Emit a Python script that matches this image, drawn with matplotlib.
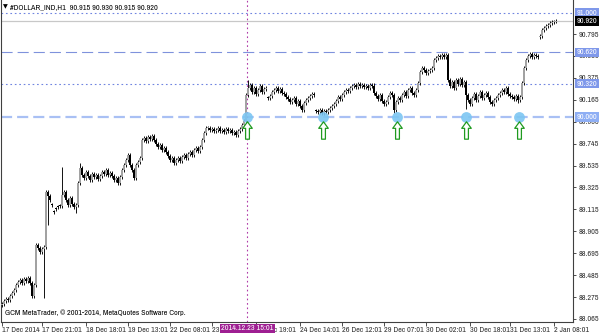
import numpy as np
import matplotlib
matplotlib.use("Agg")
import matplotlib.pyplot as plt
from matplotlib.path import Path
import matplotlib.transforms as mtransforms

plt.rcParams['font.family'] = ['Archivo Narrow', 'DejaVu Sans']
plt.rcParams['lines.scale_dashes'] = False

# ---------------- data ----------------
closes = [
    88.209, 88.237, 88.257, 88.247, 88.285, 88.314, 88.343,
    88.391, 88.419, 88.439, 88.410, 88.448, 88.429, 88.458, 88.410,
    88.285, 88.391, 88.774, 88.745, 88.707, 88.736, 88.755,
    89.282, 89.243, 89.205,
    89.157, 89.090, 89.119, 89.138, 89.148,
    89.253, 89.282, 89.205, 89.157, 89.224, 89.167, 89.138,
    89.157, 89.368, 89.512,
    89.445, 89.416, 89.473, 89.435, 89.397, 89.454, 89.425, 89.445, 89.406, 89.435,
    89.473, 89.454, 89.492, 89.445, 89.464,
    89.435, 89.397, 89.416, 89.368, 89.425,
    89.492, 89.540, 89.588, 89.636, 89.540,
    89.492, 89.416, 89.540, 89.569, 89.607, 89.780,
    89.799, 89.770, 89.809, 89.789, 89.818, 89.780,
    89.741, 89.713, 89.732, 89.684, 89.703,
    89.665, 89.626, 89.588, 89.607, 89.560, 89.588,
    89.607, 89.579, 89.617, 89.636, 89.607, 89.646, 89.665, 89.636, 89.684, 89.703, 89.674, 89.713,
    89.780, 89.847, 89.895,
    89.895, 89.876, 89.885, 89.866, 89.876, 89.895, 89.866, 89.876, 89.856, 89.885,
    89.866, 89.876, 89.847, 89.856, 89.828, 89.866, 89.885,
    89.924, 89.962, 90.211, 90.278,
    90.307, 90.240, 90.278, 90.221, 90.259, 90.297, 90.240, 90.268, 90.278,
    90.182, 90.201,
    90.240, 90.259, 90.278, 90.249, 90.268, 90.230, 90.221,
    90.192, 90.173, 90.144, 90.163, 90.182,
    90.125, 90.153, 90.106, 90.067,
    90.134, 90.163, 90.182, 90.201, 90.221, 90.211,
    90.058, 90.048, 90.067, 90.039, 90.058, 90.048, 90.067,
    90.086, 90.106, 90.125, 90.153, 90.192, 90.173, 90.211, 90.240, 90.259, 90.249,
    90.278, 90.297, 90.307, 90.288, 90.316, 90.297, 90.307, 90.288, 90.297, 90.278, 90.307, 90.297,
    90.230,
    90.201, 90.173, 90.211, 90.153, 90.125, 90.144,
    90.192, 90.230, 90.211, 90.067,
    90.144, 90.182, 90.163, 90.211,
    90.240, 90.201, 90.259, 90.278, 90.230,
    90.211, 90.259, 90.326,
    90.431, 90.470, 90.450, 90.422, 90.441,
    90.450, 90.470, 90.546,
    90.565, 90.585, 90.575, 90.594, 90.575, 90.594,
    90.355,
    90.297, 90.335, 90.278,
    90.355, 90.316, 90.364, 90.307, 90.335,
    90.211, 90.163, 90.125, 90.182,
    90.221, 90.163, 90.201, 90.240, 90.182, 90.211, 90.230, 90.192,
    90.144, 90.125, 90.163,
    90.182, 90.211, 90.230, 90.259, 90.240, 90.278, 90.221, 90.201,
    90.192, 90.173, 90.201, 90.163, 90.192,
    90.326, 90.470, 90.546,
    90.585, 90.604, 90.575, 90.594, 90.585, 90.575,
    90.776, 90.834, 90.853, 90.872, 90.882, 90.901, 90.910, 90.915, 90.920,
]
first_open = 88.200
gap_opens = {25: 89.160, 26: 89.093, 27: 89.121, 28: 89.140, 29: 89.150,
             133: 90.186, 157: 90.062, 269: 90.768}
highs_extra = {30: 89.521, 39: 89.560, 63: 89.655, 123: 90.355, 186: 90.326,
               222: 90.613, 277: 90.930}
lows_extra = {0: 88.180, 15: 88.266, 21: 88.266, 23: 88.966, 37: 89.081,
              122: 89.935, 150: 90.048, 160: 90.030, 196: 90.039, 232: 90.077,
              258: 90.134, 269: 90.760}
WICK = 0.016

date_tick_bars = [0, 20, 42, 63, 84, 105, 127, 149, 170, 191, 212, 234, 254, 276]
date_tick_labels = ["17 Dec 2014", "17 Dec 21:01", "18 Dec 18:01", "19 Dec 13:01",
                    "22 Dec 08:01", "23 Dec 03:01", "23 Dec 19:01", "24 Dec 14:01",
                    "26 Dec 12:01", "29 Dec 07:01", "30 Dec 02:01", "30 Dec 18:01",
                    "31 Dec 13:01", "2 Jan 08:01"]
price_ticks = [88.065, 88.275, 88.485, 88.695, 88.905, 89.115, 89.325, 89.535,
               89.745, 89.955, 90.165, 90.375, 90.585, 90.795]

support_level = 90.000
level_lines = [91.000, 90.620, 90.320]
current_price = 90.920
signal_bars = [122.6, 160.5, 197.5, 232.0, 258.5]
crosshair_bar = 122.6
crosshair_label = "2014.12.23 15:01"

FS = 5.8

# ---------------- figure ----------------
W, H = 600, 333
fig = plt.figure(figsize=(W / 100, H / 100), dpi=100)
ax = fig.add_axes([1 / W, 11 / H, 572 / W, 322 / H])
ax.set_xlim(-0.5, 285.5)
ax.set_ylim(88.036, 91.121)

n = len(closes)
x = np.arange(n)
opens = []
for i in range(n):
    if i in gap_opens:
        opens.append(gap_opens[i])
    elif i == 0:
        opens.append(first_open)
    else:
        opens.append(closes[i - 1])
opens = np.array(opens)
cl = np.array(closes)
hi = np.maximum(opens, cl) + WICK
lo = np.minimum(opens, cl) - WICK
for k, v in highs_extra.items():
    if k < n:
        hi[k] = max(hi[k], v)
for k, v in lows_extra.items():
    if k < n:
        lo[k] = min(lo[k], v)

up = cl >= opens
ax.vlines(x, lo, hi, color='#111111', lw=0.7, zorder=3)
bottom = np.minimum(opens, cl)
height = np.maximum(np.abs(cl - opens), 0.007)
ax.bar(x[up], height[up], bottom=bottom[up], width=1.0, color='#a2a2a2',
       linewidth=0, zorder=4)
ax.bar(x[~up], height[~up], bottom=bottom[~up], width=1.0, color='black',
       linewidth=0, zorder=4)

# horizontal lines
ax.axhline(current_price, color='#c8c8c8', lw=0.9, zorder=1)
ax.axhline(level_lines[0], color='#6f84e0', lw=0.8, ls=(0, (1.2, 2.0)), zorder=1)
ax.axhline(level_lines[1], color='#7f92dc', lw=0.8, ls=(0, (8, 3.6)), zorder=1)
ax.axhline(level_lines[2], color='#6f84e0', lw=0.8, ls=(0, (1.2, 2.0)), zorder=1)
ax.axhline(support_level, color='#a9c0f4', lw=1.6, ls=(0, (8, 3.6)), zorder=1)

# crosshair
ax.axvline(crosshair_bar, color='#b03aa8', lw=0.8, ls=(0, (1.2, 2.0)), zorder=2)

# signal circles and arrows
ax.plot(signal_bars, [support_level] * len(signal_bars), 'o', ms=7.8,
        color='#7cc6f2', mec='none', alpha=0.9, zorder=6)
arrow = Path([(0, 1), (0.55, 0.25), (0.22, 0.25), (0.22, -1), (-0.22, -1),
              (-0.22, 0.25), (-0.55, 0.25), (0, 1)],
             [Path.MOVETO] + [Path.LINETO] * 6 + [Path.CLOSEPOLY])
ax.plot(signal_bars, [89.872] * len(signal_bars), linestyle='none', marker=arrow,
        ms=12.5, mfc='white', mec='#1f9a1f', mew=0.9, zorder=6)

# spines
ax.spines['top'].set_visible(False)
for s in ['left', 'right', 'bottom']:
    ax.spines[s].set_color('#404040')
    ax.spines[s].set_linewidth(0.8)

# y ticks on right
ax.yaxis.tick_right()
ax.set_yticks(price_ticks)
ax.set_yticklabels([f"{p:.3f}" for p in price_ticks])
ax.tick_params(axis='y', direction='out', length=2.5, width=0.6, colors='#303030',
               labelsize=FS, pad=1.5)

# x ticks
ax.set_xticks(date_tick_bars)
ax.set_xticklabels(date_tick_labels)
for t in ax.get_xticklabels():
    t.set_ha('left')
ax.tick_params(axis='x', direction='out', length=3, width=0.6, colors='#303030',
               labelsize=FS, pad=0.8)

# price boxes on right axis
trans = mtransforms.blended_transform_factory(ax.transAxes, ax.transData)
def price_box(v, fc, tc='white'):
    ax.text(1.007, v, f"{v:.3f}", transform=trans, ha='left', va='center',
            fontsize=FS, color=tc, zorder=10, clip_on=False,
            bbox=dict(boxstyle='square,pad=0.22', fc=fc, ec='none'))

price_box(level_lines[0], '#7f98ea')
price_box(level_lines[1], '#7f98ea')
price_box(level_lines[2], '#7f98ea')
price_box(support_level, '#8eaef4')
price_box(current_price, 'black')

# crosshair time label
transx = mtransforms.blended_transform_factory(ax.transData, ax.transAxes)
ax.text(crosshair_bar, -0.010, crosshair_label, transform=transx, ha='center',
        va='top', fontsize=FS, color='white', zorder=10, clip_on=False,
        bbox=dict(boxstyle='square,pad=0.18', fc='#9e1f92', ec='none'))

# header / footer text
ax.text(0.004, 0.978, "\u25BC", transform=ax.transAxes, fontsize=4.5,
        family='DejaVu Sans', va='center', ha='left', color='black')
ax.text(0.015, 0.978, "#DOLLAR_IND,H1  90.915 90.930 90.915 90.920",
        transform=ax.transAxes, fontsize=FS, va='center', ha='left', color='black')
ax.text(0.007, 0.028, "GCM MetaTrader, \u00A9 2001-2014, MetaQuotes Software Corp.",
        transform=ax.transAxes, fontsize=FS, va='center', ha='left', color='black')

fig.savefig("out.png", dpi=100, facecolor='white')
